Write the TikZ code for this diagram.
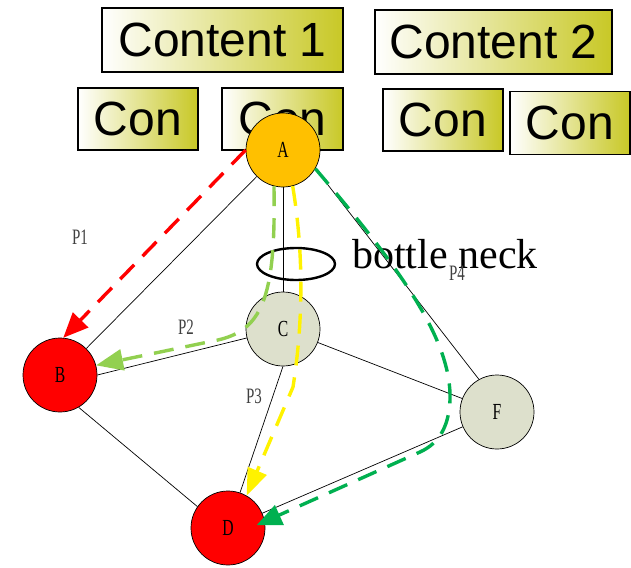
\documentclass[tikz,border=0pt]{standalone}
\usepackage{fontspec}
\setmainfont{Liberation Serif}
\newfontfamily\boxfont{Liberation Sans}
\usetikzlibrary{arrows.meta,shapes.geometric,backgrounds}
\definecolor{boxolive}{RGB}{200,200,38}
\definecolor{nodeorange}{RGB}{255,192,0}
\definecolor{nodegrey}{RGB}{221,224,204}
\definecolor{pathlight}{RGB}{146,208,80}
\definecolor{pathdark}{RGB}{0,176,80}
\definecolor{labelgrey}{RGB}{64,64,64}
\newcommand{\narrowtxt}[1]{\scalebox{0.68}[1]{#1}}
\begin{document}
\begin{tikzpicture}[x=1pt,y=-1pt,
  gradbox/.style={draw=black,line width=1.8pt,left color=white,right color=boxolive,
    inner sep=0pt,font=\boxfont\fontsize{48}{48}\selectfont},
  vertex/.style={circle,draw=black,line width=0.7pt,minimum size=74pt,inner sep=0pt,
    font=\fontsize{23}{23}\selectfont},
  edge/.style={draw=black,line width=0.7pt},
  route/.style={line width=3.4pt,dash pattern=on 20pt off 12pt},
  plabel/.style={text=labelgrey,font=\fontsize{22}{22}\selectfont,inner sep=0pt}]
\useasboundingbox (0,0) rectangle (631,567);

% header boxes
\node[gradbox,minimum width=241pt,minimum height=64pt] (c1) at (222.5,40) {Content 1};
\node[gradbox,minimum width=237pt,minimum height=64pt] (c2) at (493.5,42) {Content 2};
\node[gradbox,minimum width=120pt,minimum height=62pt] (k1) at (138,119) {Con};
\node[gradbox,minimum width=121pt,minimum height=62pt] (k2) at (282.5,119) {Con};
\node[gradbox,minimum width=120pt,minimum height=62pt] (k3) at (443,120) {Con};
\node[gradbox,minimum width=120pt,minimum height=63pt] (k4) at (570,123) {Con};

% graph vertices
\node[vertex,fill=nodeorange] (A) at (283,150) {\narrowtxt{A}};
\node[vertex,fill=red] (B) at (60,375) {\narrowtxt{B}};
\node[vertex,fill=nodegrey] (C) at (283,329) {\narrowtxt{C}};
\node[vertex,fill=red] (D) at (228,528) {\narrowtxt{D}};
\node[vertex,fill=nodegrey] (F) at (497,412) {\narrowtxt{F}};

% graph edges, kept underneath the vertices
\begin{pgfonlayer}{background}
\draw[edge] (A) -- (B);
\draw[edge] (A) -- (C);
\draw[edge] (A.330) -- (F.119);
\draw[edge] (B.east) -- (C);
\draw[edge] (B.-60) -- (D.145);
\draw[edge] (C.south) -- (D);
\draw[edge] (C) -- (F);
\draw[edge] (D) -- (F);
\end{pgfonlayer}

% bottleneck marker
\node[ellipse,draw=black,line width=2.4pt,minimum width=78pt,minimum height=32pt,inner sep=0pt]
  (neck) at (296,264) {};
\node[anchor=base west,inner sep=0pt,font=\fontsize{42}{42}\selectfont] (neckl) at (352,268) {bottle neck};

% path labels
\node[plabel] (p1) at (80,237) {\narrowtxt{P1}};
\node[plabel] (p2) at (186,327) {\narrowtxt{P2}};
\node[plabel] (p3) at (254,396) {\narrowtxt{P3}};
\node[plabel] (p4) at (457,273) {\narrowtxt{P4}};

% routes
\draw[route,red,-{Triangle[length=25pt,width=21pt]}] (A.180) -- (B.85);
\draw[route,pathlight,-{Triangle[length=27pt,width=21pt]}]
  (A.256) .. controls (276,300) and (262,332) .. (213,341) -- (B.15);
\draw[route,yellow,-{Triangle[length=27pt,width=20pt]}]
  (A.285) .. controls (305,260) and (302,330) .. (293,387) -- (D.60);
\draw[route,pathdark,-{Triangle[length=25pt,width=21pt]},shorten >=-9pt]
  (A.330) .. controls (400,268) and (452,340) .. (450,400)
  .. controls (449,425) and (440,443) .. (420,452) -- (D.10);
\end{tikzpicture}
\end{document}
